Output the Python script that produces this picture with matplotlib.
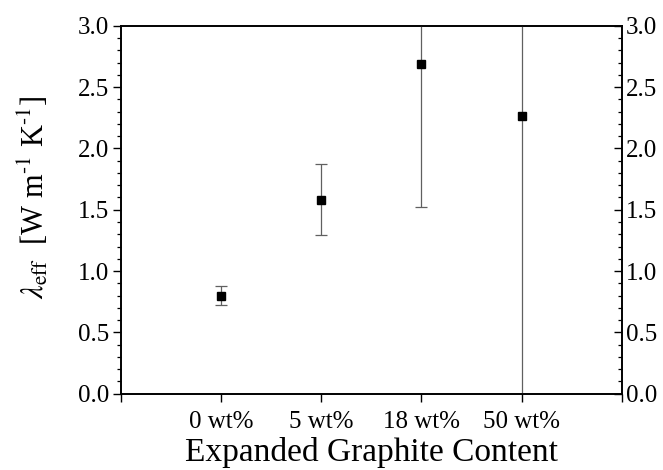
import matplotlib.pyplot as plt
import numpy as np
from matplotlib.ticker import MultipleLocator

plt.rcParams["font.family"] = ["Liberation Serif", "DejaVu Serif"]
plt.rcParams["mathtext.fontset"] = "stix"

# data
labels = ["0 wt%", "5 wt%", "18 wt%", "50 wt%"]
lam = [0.80, 1.58, 2.69, 2.26]
err = [0.075, 0.29, 1.17, 2.9]

x = np.arange(1, len(labels) + 1)

fig = plt.figure(figsize=(6.63, 4.70), dpi=100)
ax = fig.add_axes([0.1825, 0.1623, 0.7552, 0.783])

ax.errorbar(x, lam, yerr=err, fmt="s", color="black", markersize=5.5,
            ecolor="#606060", elinewidth=0.9, capsize=4, capthick=0.9, zorder=3)

ax.set_xlim(0, 5)
ax.set_ylim(0, 3.0)
ax.set_xticks(np.arange(0, 6))
ax.set_xticklabels([""] + labels + [""])

# right-hand axis: same scale, ticks pointing into the plot
ax2 = ax.twinx()
ax2.set_ylim(ax.get_ylim())
for a in (ax, ax2):
    a.yaxis.set_major_locator(MultipleLocator(0.5))
    a.yaxis.set_minor_locator(MultipleLocator(0.1))
    a.yaxis.set_major_formatter(plt.FormatStrFormatter("%.1f"))
    for s in a.spines.values():
        s.set_linewidth(1.2)

ax.tick_params(axis="both", which="major", direction="out", length=5.5, width=1.0, labelsize=18)
ax.tick_params(axis="y", which="minor", direction="out", length=3, width=0.9)
ax.tick_params(axis="y", pad=3)
ax.tick_params(axis="x", pad=7)
ax2.tick_params(axis="y", which="major", direction="in", length=5.5, width=1.0, labelsize=18, pad=3)
ax2.tick_params(axis="y", which="minor", direction="in", length=3, width=0.9)

ax.set_xlabel("Expanded Graphite Content", fontsize=24, labelpad=3)
ax.set_ylabel(r"$\lambda_{\rm eff}$  [W m$^{\text{-}1}$ K$^{\text{-}1}$]", fontsize=22)
ax.yaxis.set_label_coords(-0.14, 0.535)

plt.savefig("out.png", dpi=100)
